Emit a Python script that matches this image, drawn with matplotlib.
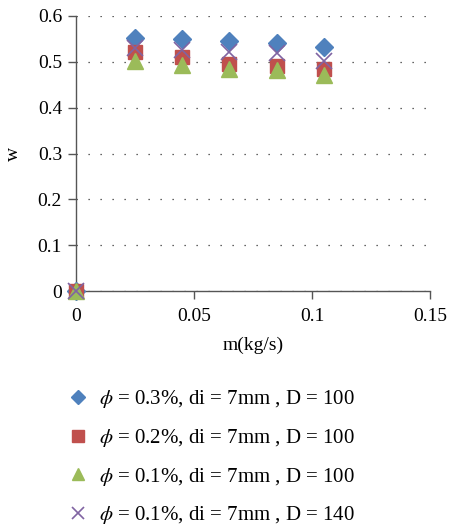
import matplotlib
matplotlib.use("Agg")
import matplotlib.pyplot as plt

x = [0, 0.025, 0.045, 0.065, 0.085, 0.105]
s1 = [0, 0.553, 0.550, 0.546, 0.541, 0.533]
s2 = [0, 0.522, 0.510, 0.495, 0.490, 0.485]
s3 = [0, 0.501, 0.494, 0.484, 0.482, 0.471]
s4 = [0, 0.530, 0.526, 0.522, 0.519, 0.501]
labels = [r"$\phi$ = 0.3%, di = 7mm , D = 100",
          r"$\phi$ = 0.2%, di = 7mm , D = 100",
          r"$\phi$ = 0.1%, di = 7mm , D = 100",
          r"$\phi$ = 0.1%, di = 7mm , D = 140"]
xticks = [0, 0.05, 0.1, 0.15]
xticklabels = ["0", "0.05", "0.1", "0.15"]
yticks = [0, 0.1, 0.2, 0.3, 0.4, 0.5, 0.6]
yticklabels = ["0", "0.1", "0.2", "0.3", "0.4", "0.5", "0.6"]

plt.rcParams['font.family'] = ['Liberation Serif', 'DejaVu Serif']
plt.rcParams['mathtext.fontset'] = 'stix'

fig = plt.figure(figsize=(4.49, 5.25), dpi=100)
ax = fig.add_axes([76/449, 1-291/525, (430-76)/449, (291-16)/525])

ax.plot(x, s1, linestyle='none', marker='D', markersize=9, color='#4F81BD', label=labels[0], clip_on=False, zorder=3)
ax.plot(x, s2, linestyle='none', marker='s', markersize=10, color='#C0504D', label=labels[1], clip_on=False, zorder=4)
ax.plot(x, s3, linestyle='none', marker='^', markersize=11, color='#9BBB59', label=labels[2], clip_on=False, zorder=5)
ax.plot(x, s4, linestyle='none', marker='x', markersize=11, markeredgewidth=1.2, color='#8064A2', label=labels[3], clip_on=False, zorder=6)

ax.set_xlim(0, 0.15)
ax.set_ylim(0, 0.6)
ax.set_xticks(xticks)
ax.set_xticklabels(xticklabels)
ax.set_yticks(yticks)
ax.set_yticklabels(yticklabels)
ax.tick_params(axis='both', direction='out', length=6, width=1, color='#555555', labelsize=14, pad=4)
ax.tick_params(axis='x', pad=6)
for sp in ['top', 'right']:
    ax.spines[sp].set_visible(False)
for sp in ['left', 'bottom']:
    ax.spines[sp].set_color('#555555')
    ax.spines[sp].set_linewidth(1)
ax.yaxis.grid(True, linestyle=(0, (1, 8.6)), color='#333333', linewidth=0.9)
ax.set_axisbelow(True)

ax.set_xlabel("m(kg/s)", fontsize=14, labelpad=9)
ax.set_ylabel("w", fontsize=14, labelpad=11)

leg = fig.legend(loc='upper left', bbox_to_anchor=(63/449, 1-384/525), frameon=False,
                 fontsize=15, labelspacing=0.8, handletextpad=0.55, handlelength=1.0,
                 markerscale=0.8, borderaxespad=0, borderpad=0.2)

fig.savefig("out.png", dpi=100)
